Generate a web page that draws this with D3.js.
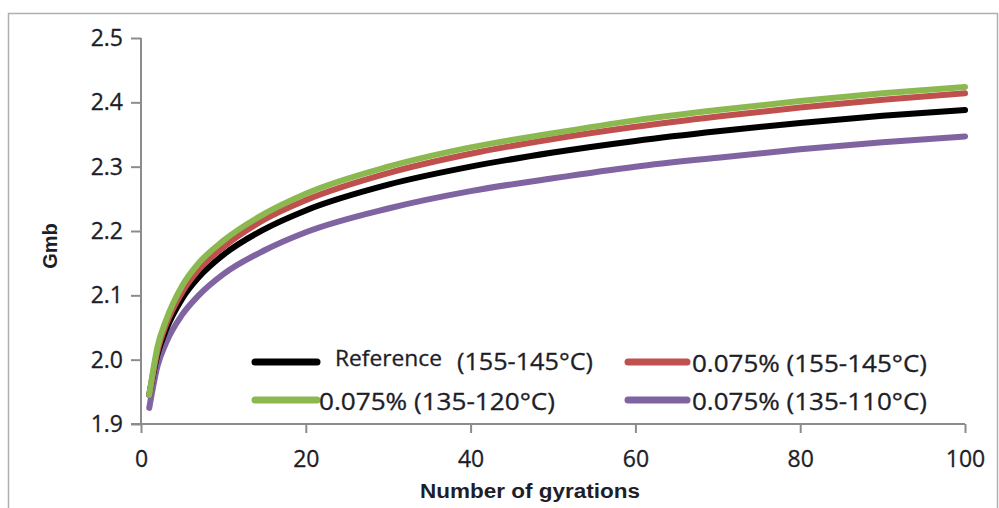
<!DOCTYPE html>
<html><head><meta charset="utf-8">
<script src="https://cdn.jsdelivr.net/npm/d3@7/dist/d3.min.js"></script>
<style>body{margin:0;background:#fff;}svg{display:block;}</style>
</head><body>
<svg id="chart" width="999" height="508"></svg>
<script>
const gyrations = [1, 2, 3, 5, 7, 10, 15, 20, 30, 40, 50, 60, 70, 80, 90, 100];
const refValues    = [1.945, 2.008, 2.045, 2.095, 2.128, 2.163, 2.203, 2.232, 2.272, 2.300, 2.322, 2.340, 2.355, 2.368, 2.379, 2.388];
const red155Values = [1.945, 2.013, 2.053, 2.105, 2.140, 2.175, 2.218, 2.248, 2.290, 2.320, 2.343, 2.362, 2.378, 2.392, 2.404, 2.414];
const green135_120 = [1.945, 2.020, 2.060, 2.115, 2.150, 2.185, 2.227, 2.258, 2.300, 2.330, 2.352, 2.372, 2.388, 2.402, 2.414, 2.424];
const purple135_110= [1.925, 1.990, 2.025, 2.070, 2.100, 2.133, 2.170, 2.198, 2.235, 2.262, 2.282, 2.300, 2.314, 2.327, 2.338, 2.347];
const seriesNames = ["Reference", "0.075% (155-145°C)", "0.075% (135-120°C)", "0.075% (135-110°C)"];
const seriesColors = ["#000000", "#c0504d", "#8cb94f", "#8064a2"];
const xTicks = [0, 20, 40, 60, 80, 100];
const yTicks = [1.9, 2.0, 2.1, 2.2, 2.3, 2.4, 2.5];

const series = [refValues, red155Values, green135_120, purple135_110];
const svg = d3.select("#chart");

// frame
svg.append("path").attr("d", "M8.5,508 V13.5 H997.5 V508").attr("fill","none").attr("stroke","#b0b0b0").attr("stroke-width",1.5);

const x = d3.scaleLinear().domain([0,100]).range([141,965]);
const y = d3.scaleLinear().domain([1.9,2.5]).range([424,38]);

const axisColor = "#8c8c8c";
const tickFont = "'Open Sans', sans-serif";
const textColor = "#1e1e28";

// y axis
const yAxis = svg.append("g").attr("transform","translate(141,0)")
  .call(d3.axisLeft(y).tickValues(yTicks).tickFormat(d3.format(".1f")).tickSize(10).tickPadding(8));
// x axis
const xAxis = svg.append("g").attr("transform","translate(0,424)")
  .call(d3.axisBottom(x).tickValues(xTicks).tickFormat(d3.format("d")).tickSize(9).tickPadding(12));
[yAxis, xAxis].forEach(a => {
  a.select(".domain").attr("stroke", axisColor).attr("stroke-width",2);
  a.selectAll(".tick line").attr("stroke", axisColor).attr("stroke-width",2);
  a.selectAll("text").attr("font-family", tickFont).attr("font-size", 23).attr("fill",textColor)
    .attr("stroke",textColor).attr("stroke-width",0.3);
});
yAxis.select(".domain").attr("d","M0,38V424");
xAxis.select(".domain").attr("d","M131,0H965");
xAxis.selectAll("text").attr("dy","0.95em");

// lines
const line = d3.line().x((d,i)=>x(gyrations[i])).y(d=>y(d)).curve(d3.curveMonotoneX);
const order = [3,0,1,2];
order.forEach(k => {
  svg.append("path").datum(series[k]).attr("d", line)
    .attr("fill","none").attr("stroke", seriesColors[k]).attr("stroke-width",6)
    .attr("stroke-linecap","round").attr("stroke-linejoin","round");
});

// axis titles
svg.append("text").attr("x",420).attr("y",498)
  .attr("font-family","'Liberation Sans', Arial, sans-serif").attr("font-weight","bold").attr("font-size",20)
  .attr("textLength",220).attr("lengthAdjust","spacingAndGlyphs")
  .attr("fill",textColor).text("Number of gyrations");
svg.append("text").attr("transform","translate(57,246) rotate(-90)").attr("text-anchor","middle")
  .attr("font-family","'Liberation Sans', Arial, sans-serif").attr("font-weight","bold").attr("font-size",20)
  .attr("fill",textColor).text("Gmb");

// legend
const legendItems = [
  {k:0, x1:255, x2:317, y:362, tx:335, label:"Reference", size:21, len:107, base:366, extra:"(155-145°C)", ex:457, elen:136},
  {k:1, x1:628, x2:687, y:362, tx:692, label:seriesNames[1], size:23, len:235, base:372},
  {k:2, x1:255, x2:317, y:400, tx:319, label:seriesNames[2], size:23, len:236, base:410},
  {k:3, x1:628, x2:687, y:400, tx:692, label:seriesNames[3], size:23, len:235, base:410}
];
legendItems.forEach(it => {
  svg.append("line").attr("x1",it.x1).attr("x2",it.x2).attr("y1",it.y).attr("y2",it.y)
    .attr("stroke", seriesColors[it.k]).attr("stroke-width",7).attr("stroke-linecap","round");
  svg.append("text").attr("x",it.tx).attr("y",it.base).attr("font-family",tickFont).attr("font-size",it.size)
    .attr("textLength",it.len).attr("lengthAdjust","spacingAndGlyphs")
    .attr("fill",textColor).attr("stroke",textColor).attr("stroke-width",0.3).text(it.label);
  if (it.extra) svg.append("text").attr("x",it.ex).attr("y",370).attr("font-family",tickFont).attr("font-size",23)
    .attr("textLength",it.elen).attr("lengthAdjust","spacingAndGlyphs")
    .attr("fill",textColor).attr("stroke",textColor).attr("stroke-width",0.3).text(it.extra);
});
</script>
</body></html>
